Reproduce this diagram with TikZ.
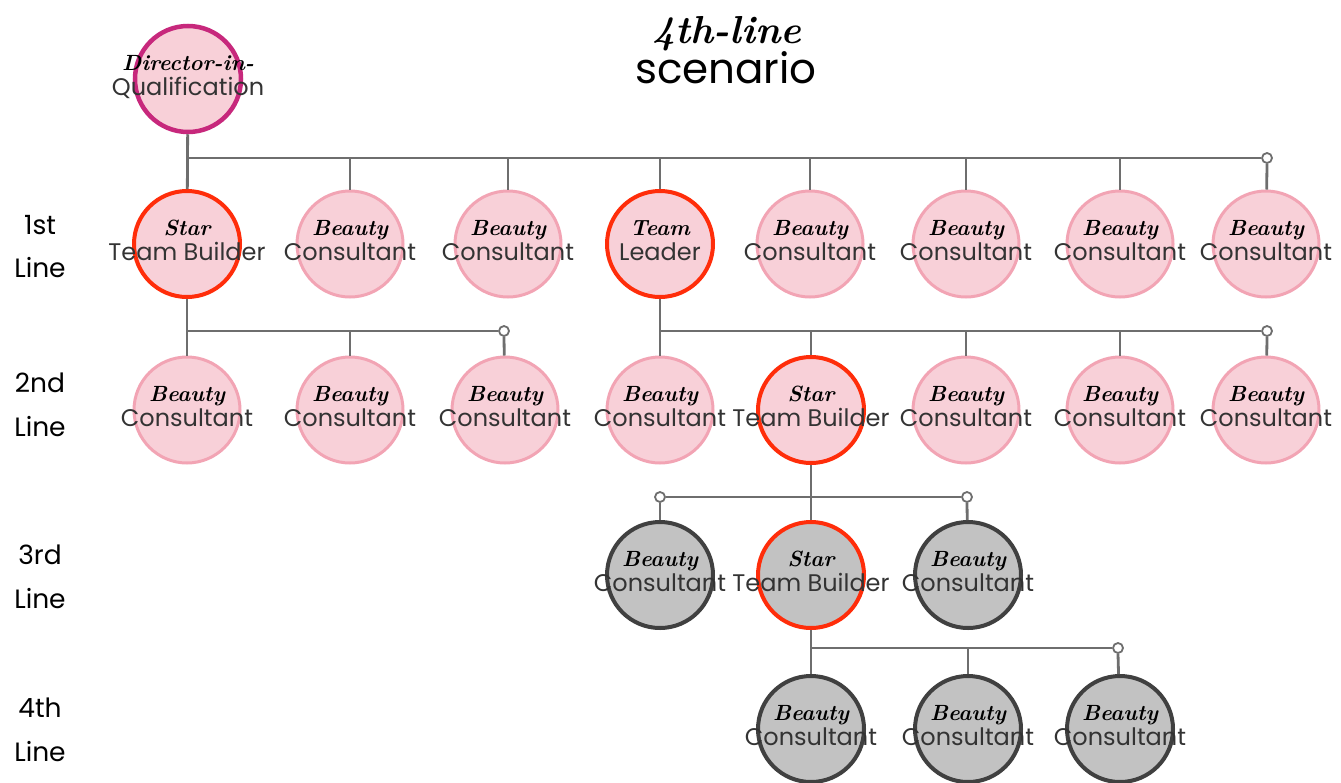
\documentclass[tikz,border=0pt]{standalone}
\usepackage{fontspec}
\newfontfamily\plainsans{Poppins}
\definecolor{pinkfill}{HTML}{F8D0D8}
\definecolor{pinkrim}{HTML}{F2A4B4}
\definecolor{starrim}{HTML}{FF2D0A}
\definecolor{dqrim}{HTML}{C7287C}
\definecolor{greyfill}{HTML}{C2C2C2}
\definecolor{greyrim}{HTML}{404040}
\definecolor{wirecol}{HTML}{6E6E6E}
\definecolor{inkgrey}{HTML}{333333}
\tikzset{
  ball/.style={circle, minimum size=106pt, inner sep=0pt, line width=3pt},
  consultant/.style={ball, fill=pinkfill, draw=pinkrim},
  builder/.style={ball, fill=pinkfill, draw=starrim, line width=4pt},
  director/.style={ball, fill=pinkfill, draw=dqrim, line width=4.5pt},
  greyconsultant/.style={ball, fill=greyfill, draw=greyrim, line width=4pt},
  greybuilder/.style={ball, fill=greyfill, draw=starrim, line width=4pt},
  endring/.style={circle, draw=wirecol, fill=white, line width=1.8pt, inner sep=0pt, minimum size=10pt},
  wire/.style={draw=wirecol, line width=2.8pt},
  rowtag/.style={anchor=base, font=\plainsans\fontsize{26.5}{26.5}\selectfont}
}
% two lines of a role: script word above, plain word below
\newcommand{\duo}[2]{\makebox[0pt]{\raisebox{9pt}[0pt][0pt]{\fontsize{22}{22}\selectfont\bfseries\itshape #1}}%
  \makebox[0pt]{\raisebox{-16pt}[0pt][0pt]{\color{inkgrey}\plainsans\fontsize{24}{24}\selectfont #2}}}
\begin{document}
\begin{tikzpicture}[x=1pt, y=-1pt]
    \useasboundingbox (0,0) rectangle (1341,782);

    \node [anchor=base, font=\fontsize{39}{39}\selectfont\bfseries\itshape] (title) at (727,43) {4th-line};
    \node [anchor=base, font=\plainsans\fontsize{42}{42}\selectfont] (subtitle) at (726,83) {scenario};

    \node [rowtag] (ord1) at (40,234) {1st};
    \node [rowtag] (line1) at (40,277) {Line};
    \node [rowtag] (ord2) at (40,392) {2nd};
    \node [rowtag] (line2) at (40,436) {Line};
    \node [rowtag] (ord3) at (40,564) {3rd};
    \node [rowtag] (line3) at (40,608) {Line};
    \node [rowtag] (ord4) at (40,717) {4th};
    \node [rowtag] (line4) at (40,761) {Line};

    \node [director] (dq) at (188,79) {\duo{Director-in-}{Qualification}};

    % 1st line
    \node [builder] (r1a) at (187,244) {\duo{Star}{Team Builder}};
    \node [consultant] (r1b) at (350,244) {\duo{Beauty}{Consultant}};
    \node [consultant] (r1c) at (508,244) {\duo{Beauty}{Consultant}};
    \node [builder] (r1d) at (660,244) {\duo{Team}{Leader}};
    \node [consultant] (r1e) at (810,244) {\duo{Beauty}{Consultant}};
    \node [consultant] (r1f) at (966,244) {\duo{Beauty}{Consultant}};
    \node [consultant] (r1g) at (1120,244) {\duo{Beauty}{Consultant}};
    \node [consultant] (r1h) at (1266,244) {\duo{Beauty}{Consultant}};

    % 2nd line
    \node [consultant] (r2a) at (187,410) {\duo{Beauty}{Consultant}};
    \node [consultant] (r2b) at (350,410) {\duo{Beauty}{Consultant}};
    \node [consultant] (r2c) at (505,410) {\duo{Beauty}{Consultant}};
    \node [consultant] (r2d) at (660,410) {\duo{Beauty}{Consultant}};
    \node [builder] (r2e) at (811,410) {\duo{Star}{Team Builder}};
    \node [consultant] (r2f) at (966,410) {\duo{Beauty}{Consultant}};
    \node [consultant] (r2g) at (1120,410) {\duo{Beauty}{Consultant}};
    \node [consultant] (r2h) at (1266,410) {\duo{Beauty}{Consultant}};

    % 3rd line
    \node [greyconsultant] (r3a) at (660,575) {\duo{Beauty}{Consultant}};
    \node [greybuilder] (r3b) at (811,575) {\duo{Star}{Team Builder}};
    \node [greyconsultant] (r3c) at (968,575) {\duo{Beauty}{Consultant}};

    % 4th line
    \node [greyconsultant] (r4a) at (811,729) {\duo{Beauty}{Consultant}};
    \node [greyconsultant] (r4b) at (968,729) {\duo{Beauty}{Consultant}};
    \node [greyconsultant] (r4c) at (1120,729) {\duo{Beauty}{Consultant}};

    % buses
    \coordinate (bus0) at (188,158);
    \node [endring] (end0) at (1267,158) {};
    \draw [wire] (dq) -- (r1a);
    \draw [wire] (bus0) -- (end0.west);
    \draw [wire] (end0.south) -- (r1h);
    \foreach \kid in {r1b,r1c,r1d,r1e,r1f,r1g}
      \draw [wire] (\kid |- bus0) -- (\kid);

    \coordinate (bus1) at (187,331);
    \node [endring] (end1) at (504,331) {};
    \draw [wire] (r1a) -- (r2a);
    \draw [wire] (bus1) -- (end1.west);
    \draw [wire] (end1.south) -- (r2c);
    \draw [wire] (r2b |- bus1) -- (r2b);

    \coordinate (bus2) at (660,331);
    \node [endring] (end2) at (1267,331) {};
    \draw [wire] (r1d) -- (r2d);
    \draw [wire] (bus2) -- (end2.west);
    \draw [wire] (end2.south) -- (r2h);
    \foreach \kid in {r2e,r2f,r2g}
      \draw [wire] (\kid |- bus2) -- (\kid);

    \node [endring] (end3a) at (660,497) {};
    \node [endring] (end3b) at (967,497) {};
    \draw [wire] (r2e) -- (r3b);
    \draw [wire] (end3a.east) -- (end3b.west);
    \draw [wire] (end3a.south) -- (r3a);
    \draw [wire] (end3b.south) -- (r3c);

    \coordinate (bus4) at (811,648);
    \node [endring] (end4) at (1118,648) {};
    \draw [wire] (r3b) -- (r4a);
    \draw [wire] (bus4) -- (end4.west);
    \draw [wire] (end4.south) -- (r4c);
    \draw [wire] (r4b |- bus4) -- (r4b);
\end{tikzpicture}
\end{document}
